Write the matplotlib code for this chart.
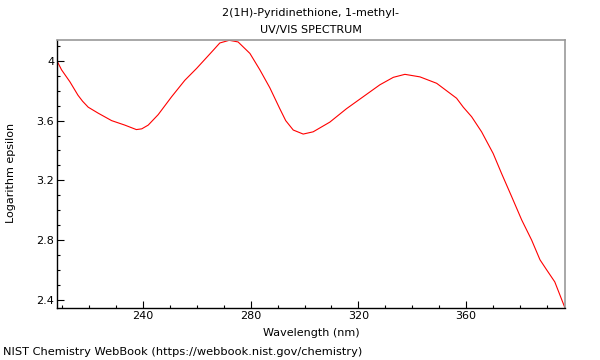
import matplotlib
matplotlib.use("Agg")
import matplotlib.pyplot as plt
from matplotlib.ticker import MultipleLocator

wavelength = [208.0, 209.7, 212.8, 215.8, 217.5, 219.6, 223.3, 228.3, 233.2, 237.5, 239.5, 241.9,
              245.6, 250.6, 255.5, 259.9, 266.0, 268.5, 272.0, 275.3, 279.7, 283.4,
              287.1, 290.8, 293.0, 295.8, 299.5, 303.2, 309.4, 315.6, 321.8, 328.0, 333.0,
              337.3, 342.9, 349.1, 352.8, 356.5, 359.0, 362.1, 365.8, 370.1, 373.2,
              377.0, 380.7, 384.4, 387.5, 390.0, 393.0, 396.8]
log_eps = [4.00, 3.94, 3.86, 3.77, 3.73, 3.69, 3.65, 3.60, 3.57, 3.54, 3.545, 3.57,
           3.64, 3.76, 3.87, 3.95, 4.07, 4.12, 4.138, 4.127, 4.05, 3.94,
           3.82, 3.68, 3.60, 3.537, 3.51, 3.525, 3.59, 3.68, 3.76, 3.84, 3.89,
           3.91, 3.893, 3.85, 3.80, 3.75, 3.69, 3.626, 3.525, 3.38, 3.247,
           3.09, 2.935, 2.80, 2.668, 2.60, 2.52, 2.345]

title_lines = ["2(1H)-Pyridinethione, 1-methyl-", "UV/VIS SPECTRUM"]
xlabel = "Wavelength (nm)"
ylabel = "Logarithm epsilon"
footer = "NIST Chemistry WebBook (https://webbook.nist.gov/chemistry)"

fig = plt.figure(figsize=(6, 3.6), dpi=100)
ax = fig.add_axes([57/600, 1-308/360, (565-57)/600, (308-40)/360])
ax.plot(wavelength, log_eps, color="#ff0000", lw=0.8)
ax.set_xlim(min(wavelength), max(wavelength))
ax.set_ylim(min(log_eps), 4.14)

ax.xaxis.set_major_locator(MultipleLocator(40))
ax.xaxis.set_minor_locator(MultipleLocator(10))
ax.yaxis.set_major_locator(MultipleLocator(0.4))
ax.yaxis.set_minor_locator(MultipleLocator(0.1))
ax.yaxis.set_major_formatter(plt.FuncFormatter(lambda v, p: f"{v:g}"))
ax.tick_params(which="both", direction="in", top=False, right=False, labelsize=8, pad=2)
ax.tick_params(which="major", length=5, width=0.8)
ax.tick_params(which="minor", length=2.5, width=0.8)
for s in ["top", "right"]:
    ax.spines[s].set_color("#999999")
    ax.spines[s].set_linewidth(1.2)
for s in ["left", "bottom"]:
    ax.spines[s].set_color("black")
    ax.spines[s].set_linewidth(1.0)

ax.set_xlabel(xlabel, fontsize=8, labelpad=5)
ax.set_ylabel(ylabel, fontsize=8)
ax.yaxis.set_label_coords(11/600, 1-173/360, transform=fig.transFigure)
ax.yaxis.label.set_va("center")
fig.text(311/600, 1-13/360, title_lines[0], ha="center", va="center", fontsize=8)
fig.text(311/600, 1-30/360, title_lines[1], ha="center", va="center", fontsize=8)
fig.text(3/600, 1-352/360, footer, ha="left", va="center", fontsize=8.2)

fig.savefig("out.png", dpi=100)
